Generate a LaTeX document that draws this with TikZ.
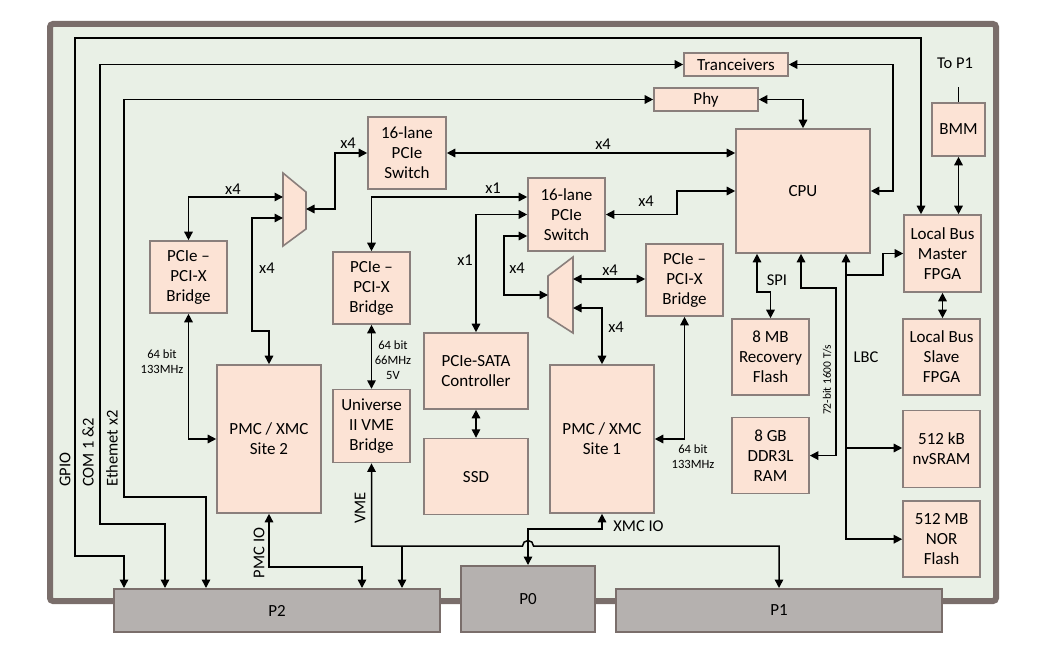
\documentclass[tikz,border=0pt]{standalone}
\usepackage{fontspec}
\setmainfont{Carlito}
\usetikzlibrary{arrows.meta, positioning, calc}

\definecolor{boardfill}{HTML}{E9F0E6}
\definecolor{boardline}{HTML}{7A6E6B}
\definecolor{boxfill}{HTML}{FCE3D5}
\definecolor{boxline}{HTML}{8A7F7C}
\definecolor{slotfill}{HTML}{B5B1AF}

\begin{document}
\begin{tikzpicture}[
    x=1pt, y=-1pt,
    data/.style={rectangle, draw=boxline, fill=boxfill, line width=1.6pt, inner sep=0pt, text centered, align=center, font=\fontsize{17}{20}\selectfont},
    slot/.style={rectangle, draw=boardline, fill=slotfill, line width=2pt, inner sep=0pt, font=\fontsize{17}{20}\selectfont},
    mux/.style={draw=boxline, fill=boxfill, line width=1.6pt},
    arrow/.style={line width=1.5pt, ->, >={Triangle[length=8.5pt,width=8.5pt]}},
    wire/.style={line width=1.5pt},
    lbl/.style={inner sep=0pt, font=\fontsize{16.5}{20}\selectfont},
    small/.style={inner sep=0pt, align=center, font=\fontsize{12.6}{15}\selectfont}
]
\useasboundingbox (0,0) rectangle (1046,658);

% Board
\draw[draw=boardline, fill=boardfill, line width=6pt, rounded corners=3pt] (50,24) rectangle (996,601);

% Backplane connectors
\node[slot, minimum width=326, minimum height=43] (p2) at (277,610.5) {P2};
\node[slot, minimum width=134, minimum height=66] (p0) at (528,599) {P0};
\node[slot, minimum width=326, minimum height=43] (p1) at (779,610.5) {P1};

% Front end
\node[data, minimum width=104, minimum height=23] (trx) at (736,64.5) {Tranceivers};
\node[data, minimum width=104, minimum height=23] (phy) at (706,99.5) {Phy};
\node[data, minimum width=134, minimum height=124] (cpu) at (803,191) {CPU};

% PCIe switches
\node[data, minimum width=78, minimum height=72] (swA) at (407,153) {16-lane\\PCIe\\Switch};
\node[data, minimum width=77, minimum height=73] (swB) at (566.5,214.5) {16-lane\\PCIe\\Switch};

% Muxes
\draw[mux] (283,173) -- (306,192) -- (306,229) -- (283,246) -- cycle;
\coordinate (muxAr) at (306,209);
\coordinate (muxAl1) at (283,197);
\coordinate (muxAl2) at (283,218);
\draw[mux] (548,276) -- (573,257) -- (573,333) -- (548,317) -- cycle;
\coordinate (muxBl) at (548,295);
\coordinate (muxBr1) at (573,279);
\coordinate (muxBr2) at (573,308);

% Bridges
\node[data, minimum width=77, minimum height=72] (brA) at (188.5,277) {PCIe --\\PCI-X\\Bridge};
\node[data, minimum width=77, minimum height=72] (brB) at (371.5,288) {PCIe --\\PCI-X\\Bridge};
\node[data, minimum width=77, minimum height=72] (brC) at (684.5,280) {PCIe --\\PCI-X\\Bridge};
\node[data, minimum width=77, minimum height=73, below=64pt of brB] (vme) {Universe\\II VME\\Bridge};

% Storage
\node[data, minimum width=104, minimum height=76] (sata) at (476,371) {PCIe-SATA\\Controller};
\node[data, minimum width=104, minimum height=76, below=28pt of sata] (ssd) {SSD};

% Mezzanine sites
\node[data, minimum width=104, minimum height=148] (siteB) at (269,439) {PMC / XMC\\Site 2};
\node[data, minimum width=104, minimum height=148] (siteA) at (602,439) {PMC / XMC\\Site 1};

% Memory and local bus
\node[data, minimum width=77, minimum height=76] (rec) at (770.5,357) {8 MB\\Recovery\\Flash};
\node[data, minimum width=77, minimum height=76, below=21pt of rec] (ddr) {8 GB\\DDR3L\\RAM};
\node[data, minimum width=53, minimum height=53] (bmm) at (958.5,129.5) {BMM};
\node[data, minimum width=77, minimum height=77] (lbm) at (942.5,253.5) {Local Bus\\Master\\FPGA};
\node[data, minimum width=77, minimum height=76] (lbs) at (941.5,357) {Local Bus\\Slave\\FPGA};
\node[data, minimum width=77, minimum height=77, below=14pt of lbs] (sram) {512 kB\\nvSRAM};
\node[data, minimum width=77, minimum height=76, below=12pt of sram] (nor) {512 MB\\NOR\\Flash};

% Arrows
\draw[arrow, <->] ([xshift=-153pt]p2.north) |- (75,556) |- (921,38) -- ([xshift=-21.5pt]lbm.north);
\draw[arrow, <->] ([xshift=-112pt]p2.north) |- (100,524) |- (trx.west);
\draw[arrow, <->] ([xshift=-71pt]p2.north) |- (124,497) |- (phy.west);
\draw[arrow, <->] (trx.east) -- ++(104,0) |- (cpu.east);
\draw[arrow, <->] (phy.east) -| (cpu.north);
\draw[arrow, <->] (swA.east) -- (swA.east -| cpu.west);
\draw[arrow, <->] (swA.west) -- ++(-32,0) |- (muxAr);
\draw[arrow, <->] (brA.north) |- (muxAl1);
\draw[arrow, <->] (muxAl2) -| (252,331) -| (siteB.north);
\draw[arrow, <->] (brA.south) |- (siteB.west);
\draw[arrow, <->] (brB.north) |- ([yshift=17.5pt]swB.west);
\draw[arrow, <->] (sata.north) |- (swB.west);
\draw[arrow, <->] ([yshift=-21.5pt]swB.west) -| (504,295) -- (muxBl);
\draw[arrow, <->] (muxBr1) -- (muxBr1 -| brC.west);
\draw[arrow, <->] (muxBr2) -| (siteA.north);
\draw[arrow, <->] (brC.south) |- (siteA.east);
\draw[arrow, <->] (swB.east) -- ++(71,0) |- (cpu.west);
\draw[arrow, <->] (brB.south) -- (vme.north);
\draw[arrow, <->] (sata.south) -- (ssd.north);
\draw[arrow, <->] (siteB.south) -- ++(0,53) -| ([xshift=85pt]p2.north);
\draw[arrow, <->] (vme.south) |- (522.5,546) arc[start angle=180, end angle=0, radius=5.5pt] -| (p1.north);
\coordinate (vmeBr) at (402,546);
\draw[arrow] (vmeBr) -- ([xshift=125pt]p2.north);
\draw[arrow, <->] (siteA.south) -- ++(0,15) -| (p0.north);
\draw[arrow, <->] ([xshift=-46pt]cpu.south) -- ++(0,38) -| (rec.north);
\draw[arrow, <->] ([xshift=-2pt]cpu.south) |- (836,288) |- (ddr.east);
\draw[arrow, <->] ([xshift=43pt]cpu.south) |- (nor.west);
\coordinate (lbcA) at (846,275);
\coordinate (lbcB) at (846,448);
\draw[arrow] (lbcA) -- ++(37,0) |- (lbm.west);
\draw[arrow] (lbcB) -- (lbcB -| sram.west);
\draw[arrow, <->] (bmm.south) -- (bmm.south |- lbm.north);
\draw[arrow, <->] (lbm.south) -- (lbm.south |- lbs.north);
\draw[wire] (bmm.north) -- ++(0,-15);

% Labels
\node[lbl] at (955,63) {To P1};
\node[lbl] at (348,143) {x4};
\node[lbl] at (233,189) {x4};
\node[lbl] at (267,268) {x4};
\node[lbl] at (603,144) {x4};
\node[lbl] at (493,188) {x1};
\node[lbl] at (465,260) {x1};
\node[lbl] at (517,268) {x4};
\node[lbl] at (610,270) {x4};
\node[lbl] at (616,327) {x4};
\node[lbl] at (646,201) {x4};
\node[lbl] at (777,280) {SPI};
\node[lbl] at (866,357) {LBC};
\node[lbl] at (638.5,526) {XMC IO};
\node[small] at (162,362) {64 bit\\133MHz};
\node[small] at (393,360) {64 bit\\66MHz\\5V};
\node[small] at (693,457) {64 bit\\133MHz};
\node[lbl, rotate=90, anchor=west] at (65,487) {GPIO};
\node[lbl, rotate=90, anchor=west] at (88,487) {COM 1 \&2};
\node[lbl, rotate=90, anchor=west] at (112,487) {Ethemet x2};
\node[lbl, rotate=90] at (259,553) {PMC IO};
\node[lbl, rotate=90] at (360,508) {VME};
\node[small, rotate=90, font=\fontsize{11.5}{13}\selectfont] at (827,380) {72-bit 1600 T/s};

\end{tikzpicture}
\end{document}
